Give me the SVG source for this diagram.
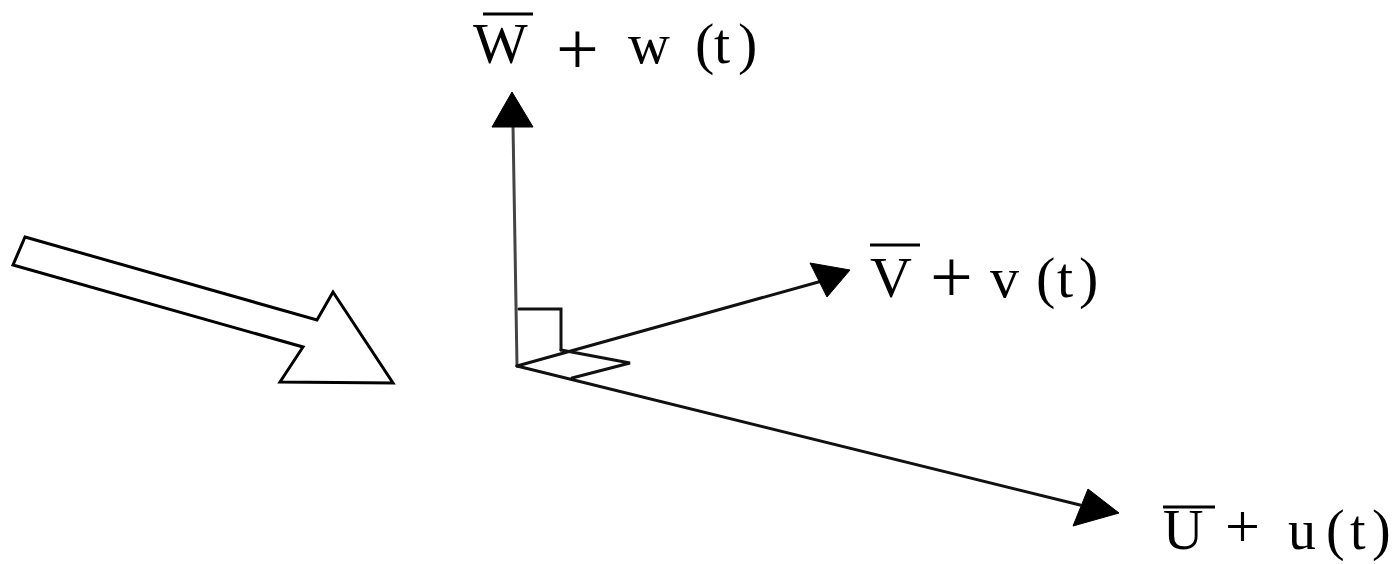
<svg xmlns="http://www.w3.org/2000/svg" width="1400" height="564" viewBox="0 0 1400 564">
<style>
.ax{stroke:#111;stroke-width:3;fill:none;stroke-linecap:round}
.head{fill:#000;stroke:#000;stroke-width:1}
.lbl{font-family:"Liberation Serif","DejaVu Serif",serif;font-size:58px;fill:#000}
.plus{font-size:76px}
.bar{stroke:#000;stroke-width:3}
.flow{fill:#fff;stroke:#000;stroke-width:3;stroke-linejoin:miter}
</style>
<rect width="1400" height="564" fill="#fff"/>
<g id="flow-arrow">
<polygon class="flow" points="25,237 317,320 333,292 393,383 280,382 303,347 13,265"/>
</g>
<g id="connectors">
<line class="ax" x1="517" y1="366" x2="513" y2="125" style="stroke:#444"/>
<polygon class="head" points="512,92 492,127 533,127"/>
<line class="ax" x1="517" y1="366" x2="822" y2="281"/>
<polygon class="head" points="850,270 810,263 827,297"/>
<line class="ax" x1="517" y1="366" x2="1080" y2="505"/>
<polygon class="head" points="1119,513 1088,489 1073,526"/>
<polyline class="ax" points="519,309 561,309 561,350"/>
<polyline class="ax" points="561,350 630,363 572,378"/>
</g>
<g id="label-w">
<line class="bar" x1="483" y1="14" x2="533" y2="14"/>
<text class="lbl" y="63"><tspan x="473">W</tspan><tspan class="plus" x="556" y="74">+</tspan><tspan x="628" y="63">w</tspan><tspan x="695">(</tspan><tspan x="714">t</tspan><tspan x="738">)</tspan></text>
</g>
<g id="label-v">
<line class="bar" x1="870" y1="245" x2="920" y2="245"/>
<text class="lbl" y="297"><tspan x="870">V</tspan><tspan class="plus" x="930" y="302">+</tspan><tspan x="990" y="297">v</tspan><tspan x="1036">(</tspan><tspan x="1057">t</tspan><tspan x="1079">)</tspan></text>
</g>
<g id="label-u">
<line class="bar" x1="1163" y1="507" x2="1215" y2="507"/>
<text class="lbl" y="549" style="font-size:56px"><tspan x="1163">U</tspan><tspan class="plus" x="1225" y="547" style="font-size:62px">+</tspan><tspan x="1288" y="549">u</tspan><tspan x="1326">(</tspan><tspan x="1350">t</tspan><tspan x="1372">)</tspan></text>
</g>
</svg>
